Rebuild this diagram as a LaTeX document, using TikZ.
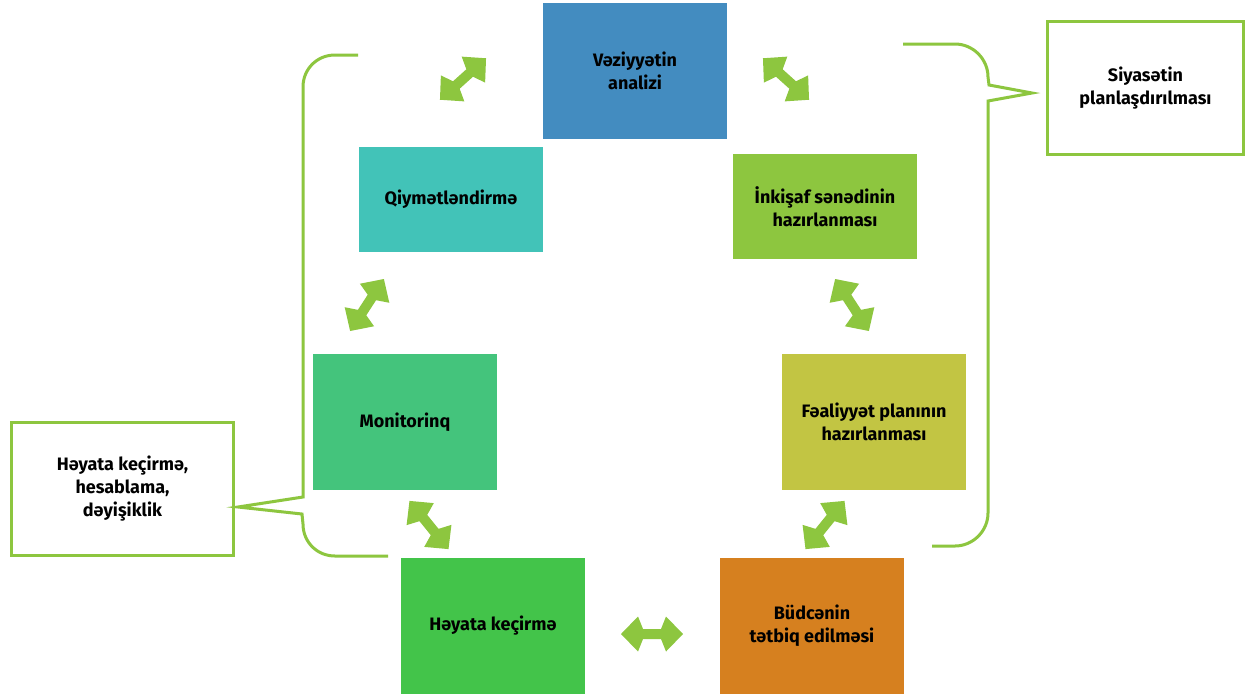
\documentclass[tikz,border=0pt]{standalone}
\usepackage{fontspec}
\setmainfont{Fira Sans}
\definecolor{cblue}{HTML}{438CC0}
\definecolor{cteal}{HTML}{42C3B8}
\definecolor{clime}{HTML}{8DC63F}
\definecolor{cmint}{HTML}{44C47C}
\definecolor{colive}{HTML}{C2C543}
\definecolor{cgreen}{HTML}{43C44A}
\definecolor{corange}{HTML}{D6801F}
\definecolor{linegreen}{HTML}{8DC63F}
\begin{document}
\begin{tikzpicture}[x=1pt,y=-1pt,
  stage/.style={minimum width=184pt, inner sep=0pt, align=center,
    font=\bfseries\fontsize{18}{23}\selectfont, text=black},
  tall/.style={stage, minimum height=136pt},
  short/.style={stage, minimum height=105pt},
  phase/.style={draw=linegreen, line width=3pt, fill=white, inner sep=0pt,
    align=center, font=\bfseries\fontsize{18}{23}\selectfont, text=black},
  bracket/.style={draw=linegreen, line width=3pt, line join=miter},
  dblarrow/.pic={\fill[linegreen] (31,0) -- (14,17.5) -- (9,5) -- (-9,5)
    -- (-14,17.5) -- (-31,0) -- (-14,-17.5) -- (-9,-5) -- (9,-5)
    -- (14,-17.5) -- cycle;}]
\fill[white] (0,0) rectangle (1247,697);
\useasboundingbox (0,0) rectangle (1247,697);

% cycle stages
\node[tall,  fill=cblue]   (ana) at (635,71)    {Vəziyyətin\\analizi};
\node[short, fill=cteal]   (qiy) at (451,199.5) {Qiymətləndirmə};
\node[short, fill=clime]   (ink) at (825,206.5) {İnkişaf sənədinin\\hazırlanması};
\node[tall,  fill=cmint]   (mon) at (405,422)   {Monitorinq};
\node[tall,  fill=colive]  (fea) at (874,422)   {Fəaliyyət planının\\hazırlanması};
\node[tall,  fill=cgreen]  (hey) at (493,626)   {Həyata keçirmə};
\node[tall,  fill=corange] (bud) at (812,626)   {Büdcənin\\tətbiq edilməsi};

% phase labels
\node[phase, minimum width=196pt, minimum height=133pt] (siy) at (1145.5,88)
  {Siyasətin\\planlaşdırılması};
\node[phase, minimum width=222pt, minimum height=133pt] (hes) at (122.5,489)
  {Həyata keçirmə,\\hesablama,\\dəyişiklik};

% two-way arrows between neighbouring stages
\pic[rotate=42]  (a1) at (463,79)  {dblarrow};
\pic[rotate=-42] (a2) at (786,79)  {dblarrow};
\pic[rotate=-57] (a3) at (852,305) {dblarrow};
\pic[rotate=51]  (a4) at (825,525) {dblarrow};
\pic             (a5) at (652,634) {dblarrow};
\pic[rotate=-51] (a6) at (429,525) {dblarrow};
\pic[rotate=57]  (a7) at (367,305) {dblarrow};

% brackets grouping the stages, each pointing at its phase label
\coordinate (rb0) at (903,44);
\coordinate (rb1) at (932,546);
\coordinate (rtip) at (1032,93);
\coordinate (lb0) at (358,55);
\coordinate (lb1) at (388,556);
\coordinate (ltip) at (238,507);
\draw[bracket] (rb0) -- (955,44) .. controls (973,44) and (988,59) .. (988,77)
  -- (989,85) -- (rtip) -- (988,101) -- (988,513)
  .. controls (988,531) and (973,546) .. (955,546) -- (rb1);
\draw[bracket] (lb0) -- (335,55) .. controls (317,55) and (303,69) .. (303,87)
  -- (303,497) -- (ltip) -- (302,514) -- (303,524)
  .. controls (303,542) and (317,556) .. (335,556) -- (lb1);
\end{tikzpicture}
\end{document}
